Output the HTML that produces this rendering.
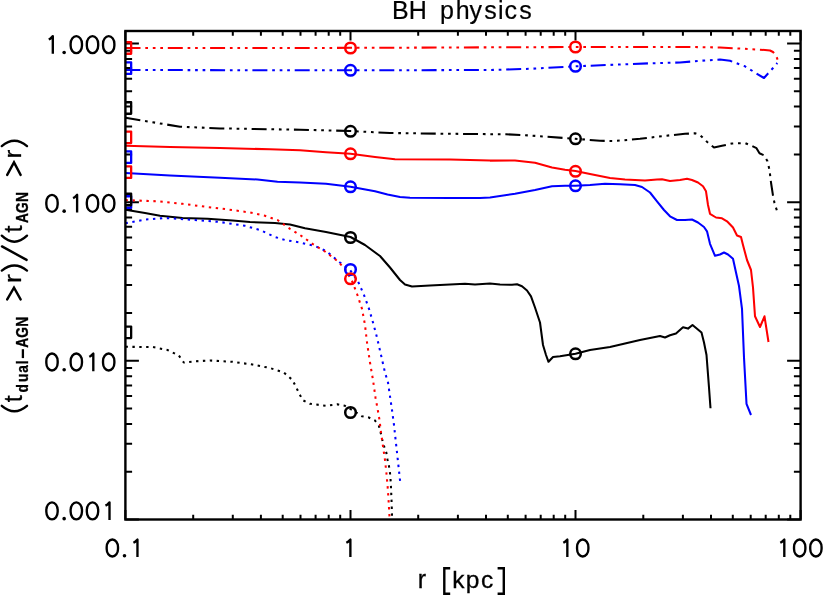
<!DOCTYPE html>
<html><head><meta charset="utf-8"><title>BH physics</title>
<style>
html,body{margin:0;padding:0;background:#fff;}
body{width:823px;height:596px;overflow:hidden;}
svg{display:block;will-change:transform;transform:translateZ(0);}
text{font-family:"Liberation Sans",sans-serif;fill:#000;}
</style></head><body>
<svg width="823" height="596" viewBox="0 0 823 596">
<rect width="823" height="596" fill="#fff"/>
<defs><clipPath id="pc"><rect x="125.4" y="31.0" width="675.2" height="488.5"/></clipPath></defs>
<g stroke="#000" stroke-width="2.0" fill="none">
<path d="M125.4 519.5v-9.5M125.4 31.0v9.5M193.2 519.5v-4.7M193.2 31.0v4.7M232.8 519.5v-4.7M232.8 31.0v4.7M260.9 519.5v-4.7M260.9 31.0v4.7M282.7 519.5v-4.7M282.7 31.0v4.7M300.5 519.5v-4.7M300.5 31.0v4.7M315.6 519.5v-4.7M315.6 31.0v4.7M328.7 519.5v-4.7M328.7 31.0v4.7M340.2 519.5v-4.7M340.2 31.0v4.7M350.5 519.5v-9.5M350.5 31.0v9.5M418.2 519.5v-4.7M418.2 31.0v4.7M457.9 519.5v-4.7M457.9 31.0v4.7M486.0 519.5v-4.7M486.0 31.0v4.7M507.8 519.5v-4.7M507.8 31.0v4.7M525.6 519.5v-4.7M525.6 31.0v4.7M540.7 519.5v-4.7M540.7 31.0v4.7M553.7 519.5v-4.7M553.7 31.0v4.7M565.2 519.5v-4.7M565.2 31.0v4.7M575.5 519.5v-9.5M575.5 31.0v9.5M643.3 519.5v-4.7M643.3 31.0v4.7M682.9 519.5v-4.7M682.9 31.0v4.7M711.0 519.5v-4.7M711.0 31.0v4.7M732.8 519.5v-4.7M732.8 31.0v4.7M750.7 519.5v-4.7M750.7 31.0v4.7M765.7 519.5v-4.7M765.7 31.0v4.7M778.8 519.5v-4.7M778.8 31.0v4.7M790.3 519.5v-4.7M790.3 31.0v4.7M800.6 519.5v-9.5M800.6 31.0v9.5M125.4 519.5h13.5M800.6 519.5h-13.5M125.4 471.7h6.7M800.6 471.7h-6.7M125.4 443.8h6.7M800.6 443.8h-6.7M125.4 424.0h6.7M800.6 424.0h-6.7M125.4 408.6h6.7M800.6 408.6h-6.7M125.4 396.0h6.7M800.6 396.0h-6.7M125.4 385.4h6.7M800.6 385.4h-6.7M125.4 376.2h6.7M800.6 376.2h-6.7M125.4 368.1h6.7M800.6 368.1h-6.7M125.4 360.8h13.5M800.6 360.8h-13.5M125.4 313.1h6.7M800.6 313.1h-6.7M125.4 285.1h6.7M800.6 285.1h-6.7M125.4 265.3h6.7M800.6 265.3h-6.7M125.4 249.9h6.7M800.6 249.9h-6.7M125.4 237.4h6.7M800.6 237.4h-6.7M125.4 226.7h6.7M800.6 226.7h-6.7M125.4 217.5h6.7M800.6 217.5h-6.7M125.4 209.4h6.7M800.6 209.4h-6.7M125.4 202.2h13.5M800.6 202.2h-13.5M125.4 154.4h6.7M800.6 154.4h-6.7M125.4 126.5h6.7M800.6 126.5h-6.7M125.4 106.6h6.7M800.6 106.6h-6.7M125.4 91.3h6.7M800.6 91.3h-6.7M125.4 78.7h6.7M800.6 78.7h-6.7M125.4 68.1h6.7M800.6 68.1h-6.7M125.4 58.9h6.7M800.6 58.9h-6.7M125.4 50.8h6.7M800.6 50.8h-6.7M125.4 43.5h13.5M800.6 43.5h-13.5"/>
</g>
<g clip-path="url(#pc)" fill="none" stroke-width="2.05" stroke-linejoin="round">
<polyline points="125.5,70.0 300.0,70.3 400.0,70.2 490.0,70.0 530.0,68.8 575.0,66.3 620.0,64.5 650.0,63.3 680.0,62.5 700.0,60.8 720.0,59.5 730.0,60.8 745.0,66.3 757.0,73.8 764.0,78.0 770.0,71.3 775.0,65.8 777.3,63.0" stroke="#0000ff" stroke-dasharray="15 4.8 2.7 4.8 2.7 4.8 2.7 4.8"/>
<polyline points="125.5,48.0 300.0,48.0 400.0,47.7 500.0,47.3 575.0,47.0 690.0,47.0 720.0,47.5 745.0,48.8 765.0,50.0 770.0,50.5 773.0,52.0 775.5,55.0 777.0,58.0 777.8,60.3" stroke="#ff0000" stroke-dasharray="15 4.8 2.7 4.8 2.7 4.8 2.7 4.8"/>
<polyline points="125.5,117.7 150.0,121.8 180.0,126.7 220.0,128.4 300.0,129.7 350.0,131.0 390.0,133.0 450.0,133.8 506.0,134.3 530.0,135.5 575.0,138.8 600.0,140.8 615.0,141.0 640.0,138.8 665.0,135.8 685.0,133.8 695.0,133.3 700.0,135.0 707.0,141.8 714.0,147.5 722.0,145.8 732.0,143.5 745.0,143.0 752.0,146.0 756.5,148.2 759.5,153.3 764.0,155.3 767.5,161.3 769.5,170.0 771.0,182.5 773.0,195.7 774.5,203.0 777.2,211.5" stroke="#000000" stroke-dasharray="15 4.8 2.7 4.8 2.7 4.8 2.7 4.8"/>
<polyline points="125.5,173.0 170.0,175.5 220.0,177.8 257.5,179.5 277.5,181.8 300.0,182.6 326.0,183.8 350.5,186.8 375.0,191.3 387.5,194.5 400.0,197.0 410.0,197.8 450.0,198.0 480.0,198.0 490.0,197.5 515.0,193.8 535.0,190.0 552.0,186.3 565.0,185.8 575.5,185.8 590.0,185.0 605.0,183.8 620.0,184.3 635.0,185.0 642.0,187.0 650.0,192.5 657.0,201.3 664.0,210.0 670.0,216.3 677.0,220.0 685.0,220.0 692.0,219.5 698.0,222.5 704.0,227.0 707.0,231.3 710.0,243.8 715.0,255.8 720.0,254.5 724.0,252.5 728.0,254.5 733.0,258.8 736.0,272.5 739.0,286.0 742.0,308.8 744.0,357.5 746.5,403.8 751.0,415.0" stroke="#0000ff"/>
<polyline points="125.5,145.8 170.0,147.0 220.0,148.0 270.0,149.3 300.0,150.3 326.0,152.3 350.5,153.8 375.0,157.0 395.0,159.3 450.0,159.5 490.0,160.6 515.0,160.5 535.0,162.8 552.0,167.5 565.0,169.8 575.5,171.0 590.0,174.0 610.0,178.0 625.0,179.5 645.0,180.6 657.0,179.5 662.0,179.2 670.0,181.0 680.0,180.0 687.0,178.8 692.0,180.0 698.0,182.5 703.0,186.3 706.0,191.3 708.0,205.0 710.0,213.8 716.0,217.5 722.0,218.3 727.0,221.3 733.0,227.5 737.0,235.5 741.0,237.0 743.0,245.0 747.0,260.0 751.0,270.0 753.0,287.5 755.0,316.3 760.0,327.0 764.5,316.3 768.5,342.0" stroke="#ff0000"/>
<polyline points="125.5,209.7 145.0,213.0 160.0,215.8 182.5,218.0 207.5,218.8 232.5,220.5 250.0,222.0 275.0,223.0 290.0,224.5 305.0,228.3 326.0,232.0 350.5,237.0 365.0,245.0 380.0,256.0 390.0,267.5 400.0,280.0 405.0,284.5 412.0,286.5 430.0,285.5 450.0,284.5 465.0,283.8 475.0,284.5 490.0,283.6 500.0,284.5 512.0,284.8 517.0,284.3 522.0,286.3 527.0,290.5 531.0,296.3 535.0,307.5 540.0,322.5 543.0,345.0 546.0,355.0 548.5,361.8 553.0,357.0 560.0,356.3 575.5,353.8 590.0,350.0 610.0,347.0 640.0,340.0 660.0,336.0 665.0,337.5 670.0,335.3 676.0,333.5 683.0,327.3 688.0,328.6 692.5,325.0 697.0,328.8 701.5,332.5 704.0,342.5 706.5,355.0 709.0,387.5 710.5,408.3" stroke="#000000"/>
<polyline points="125.5,346.8 152.5,347.0 167.5,350.0 178.8,355.5 183.8,362.5 195.0,361.3 210.0,360.5 232.5,361.8 252.5,364.5 270.0,368.0 283.8,372.5 292.5,380.0 297.5,390.0 302.5,400.0 310.0,403.8 326.0,405.8 337.5,404.3 345.0,405.8 350.5,409.0 362.0,416.3 368.8,417.5 375.0,420.5 378.8,425.5 380.5,432.0 382.0,438.8 383.8,445.5 386.3,452.5 387.5,459.5 389.0,466.3 390.0,473.0 390.6,480.0 391.0,487.5 391.3,495.0 391.6,502.5 391.8,508.8 392.0,516.3" stroke="#000000" stroke-dasharray="2.4 4.4863"/>
<polyline points="125.5,223.3 145.0,219.5 165.0,218.0 195.0,220.0 220.0,222.0 245.0,225.8 260.0,230.0 275.0,237.0 285.0,240.0 300.0,242.5 315.0,246.0 326.0,251.0 340.0,262.5 350.0,270.0 358.0,281.3 364.0,295.0 369.0,308.8 373.0,322.5 377.0,337.5 381.0,355.0 385.0,372.5 388.0,382.5 390.0,396.3 392.0,410.0 394.0,425.0 395.5,438.8 397.0,452.5 398.5,466.3 400.2,482.0" stroke="#0000ff" stroke-dasharray="2.4 4.5631"/>
<polyline points="125.5,200.1 157.5,201.3 182.5,203.8 207.5,207.0 232.5,210.0 250.0,212.5 265.0,215.8 277.5,220.0 290.0,228.8 300.0,235.0 312.5,243.8 325.0,251.5 338.0,261.5 345.0,269.0 352.0,281.0 357.0,293.8 362.0,308.8 365.0,325.0 367.0,342.5 370.0,362.5 373.0,380.0 375.5,397.5 378.0,411.3 379.5,420.0 381.0,432.5 383.0,446.3 385.0,460.0 386.5,473.8 387.7,487.5 388.6,501.3 389.5,516.6" stroke="#ff0000" stroke-dasharray="2.4 4.5721"/>
<rect x="119.65" y="62.45" width="11.5" height="11.5" stroke="#0000ff" stroke-width="2.3"/>
<rect x="119.65" y="42.25" width="11.5" height="11.5" stroke="#ff0000" stroke-width="2.3"/>
<rect x="119.65" y="102.25" width="11.5" height="11.5" stroke="#000000" stroke-width="2.3"/>
<rect x="119.65" y="151.45" width="11.5" height="11.5" stroke="#0000ff" stroke-width="2.3"/>
<rect x="119.65" y="131.55" width="11.5" height="11.5" stroke="#ff0000" stroke-width="2.3"/>
<rect x="119.65" y="166.45" width="11.5" height="11.5" stroke="#ff0000" stroke-width="2.3"/>
<rect x="119.65" y="196.25" width="11.5" height="11.5" stroke="#0000ff" stroke-width="2.3"/>
<rect x="119.65" y="193.75" width="11.5" height="11.5" stroke="#000000" stroke-width="2.3"/>
<rect x="119.65" y="326.55" width="11.5" height="11.5" stroke="#000000" stroke-width="2.3"/>
<circle cx="350.5" cy="70.3" r="5.3" stroke="#0000ff" stroke-width="2.5"/>
<circle cx="350.5" cy="48" r="5.3" stroke="#ff0000" stroke-width="2.5"/>
<circle cx="350.5" cy="131.3" r="5.3" stroke="#000000" stroke-width="2.5"/>
<circle cx="350.5" cy="186.8" r="5.3" stroke="#0000ff" stroke-width="2.5"/>
<circle cx="350.5" cy="153.8" r="5.3" stroke="#ff0000" stroke-width="2.5"/>
<circle cx="350.5" cy="237.5" r="5.3" stroke="#000000" stroke-width="2.5"/>
<circle cx="350.5" cy="269.5" r="5.3" stroke="#0000ff" stroke-width="2.5"/>
<circle cx="350.5" cy="278.8" r="5.3" stroke="#ff0000" stroke-width="2.5"/>
<circle cx="350.5" cy="412.5" r="5.3" stroke="#000000" stroke-width="2.5"/>
<circle cx="575.5" cy="66.3" r="5.3" stroke="#0000ff" stroke-width="2.5"/>
<circle cx="575.5" cy="47" r="5.3" stroke="#ff0000" stroke-width="2.5"/>
<circle cx="575.5" cy="138.8" r="5.3" stroke="#000000" stroke-width="2.5"/>
<circle cx="575.5" cy="185.8" r="5.3" stroke="#0000ff" stroke-width="2.5"/>
<circle cx="575.5" cy="171.3" r="5.3" stroke="#ff0000" stroke-width="2.5"/>
<circle cx="575.5" cy="353.8" r="5.3" stroke="#000000" stroke-width="2.5"/>
</g>
<rect x="125.4" y="31.0" width="675.2" height="488.5" fill="none" stroke="#000" stroke-width="2.4"/>
<g fill="none" stroke="#000" stroke-width="2.35" stroke-linejoin="round" stroke-linecap="butt">
<path d="M48.76 39.43L50.38 38.62L52.81 36.19V53.80"/><circle cx="64.15" cy="52.47" r="1.8" fill="#000" stroke="none"/><rect x="70.63" y="36.19" width="11.34" height="17.01" rx="5.67" ry="7.53"/><rect x="86.83" y="36.19" width="11.34" height="17.01" rx="5.67" ry="7.53"/><rect x="103.03" y="36.19" width="11.34" height="17.01" rx="5.67" ry="7.53"/>
<rect x="46.33" y="194.86" width="11.34" height="17.01" rx="5.67" ry="7.53"/><circle cx="64.15" cy="211.14" r="1.8" fill="#000" stroke="none"/><path d="M73.06 198.10L74.68 197.29L77.11 194.86V212.47"/><rect x="86.83" y="194.86" width="11.34" height="17.01" rx="5.67" ry="7.53"/><rect x="103.03" y="194.86" width="11.34" height="17.01" rx="5.67" ry="7.53"/>
<rect x="46.33" y="353.52" width="11.34" height="17.01" rx="5.67" ry="7.53"/><circle cx="64.15" cy="369.80" r="1.8" fill="#000" stroke="none"/><rect x="70.63" y="353.52" width="11.34" height="17.01" rx="5.67" ry="7.53"/><path d="M89.26 356.76L90.88 355.95L93.31 353.52V371.13"/><rect x="103.03" y="353.52" width="11.34" height="17.01" rx="5.67" ry="7.53"/>
<rect x="46.33" y="502.39" width="11.34" height="17.01" rx="5.67" ry="7.53"/><circle cx="64.15" cy="518.67" r="1.8" fill="#000" stroke="none"/><rect x="70.63" y="502.39" width="11.34" height="17.01" rx="5.67" ry="7.53"/><rect x="86.83" y="502.39" width="11.34" height="17.01" rx="5.67" ry="7.53"/><path d="M105.46 505.63L107.08 504.82L109.51 502.39V520.00"/>
<rect x="106.68" y="539.49" width="11.34" height="17.01" rx="5.67" ry="7.53"/><circle cx="124.50" cy="555.77" r="1.8" fill="#000" stroke="none"/><path d="M133.41 542.73L135.03 541.92L137.46 539.49V557.10"/>
<path d="M346.33 542.73L347.95 541.92L350.38 539.49V557.10"/>
<path d="M563.29 542.73L564.91 541.92L567.34 539.49V557.10"/><rect x="577.06" y="539.49" width="11.34" height="17.01" rx="5.67" ry="7.53"/>
<path d="M780.26 542.73L781.88 541.92L784.31 539.49V557.10"/><rect x="794.03" y="539.49" width="11.34" height="17.01" rx="5.67" ry="7.53"/><rect x="810.23" y="539.49" width="11.34" height="17.01" rx="5.67" ry="7.53"/>
</g>
<g font-size="25" stroke="#000" stroke-width="0.3">
<text y="19" font-size="25" stroke-width="0.2" x="391.90 408.80 430.00 440.00 455.80 469.50 484.30 498.10 504.50 519.30">BH physics</text>
<text x="417.7" y="588.1" stroke-width="0.3">r</text>
<text x="452.3 465.7 480.9" y="588.1" font-size="24.5" stroke-width="0.3">kpc</text>
<path d="M450.2 568.2H444.3V593.7H450.2M497.6 568.2H503.8V593.7H497.6" fill="none" stroke="#000" stroke-width="2.4"/>
<g fill="none" stroke="#000" stroke-width="2.4" stroke-linecap="round">
<path d="M1.8 405.8Q14.4 416.6 27 405.8"/><path d="M1.8 270.6Q14.4 260.6 27 270.6"/><path d="M2 246.4L26.6 259.9"/><path d="M1.8 235.7Q14.4 247.7 27 235.7"/><path d="M1.8 146.1Q14.4 135.3 27 146.1"/><path d="M7.2 299.4L14 287.6L20.6 299.4M7.2 174.9L14 162.4L20.6 174.9" stroke-linejoin="miter"/></g>
<text transform="translate(21.6,402.3) rotate(-90)" font-size="25">t</text>
<text transform="translate(27.7,393.3) rotate(-90) scale(0.86,1)" font-size="16" x="0.84 13.26 24.01 33.84 41.51 53.02 64.53 77.44" stroke-width="0.3" vector-effect="non-scaling-stroke" font-weight="bold">dual AGN</text>
<path d="M22.9 358.1V349.2" fill="none" stroke="#000" stroke-width="2.3"/>
<text transform="translate(20.9,282.9) rotate(-90) scale(1.13,1)" font-size="23.5">r</text>
<text transform="translate(21.6,232.6) rotate(-90)" font-size="25">t</text>
<text transform="translate(27.7,222.9) rotate(-90) scale(0.86,1)" font-size="16" x="0.00 11.51 24.42" stroke-width="0.3" vector-effect="non-scaling-stroke" font-weight="bold">AGN</text>
<text transform="translate(20.9,158.5) rotate(-90) scale(1.13,1)" font-size="23.5">r</text>
</g>
</svg>
</body></html>
